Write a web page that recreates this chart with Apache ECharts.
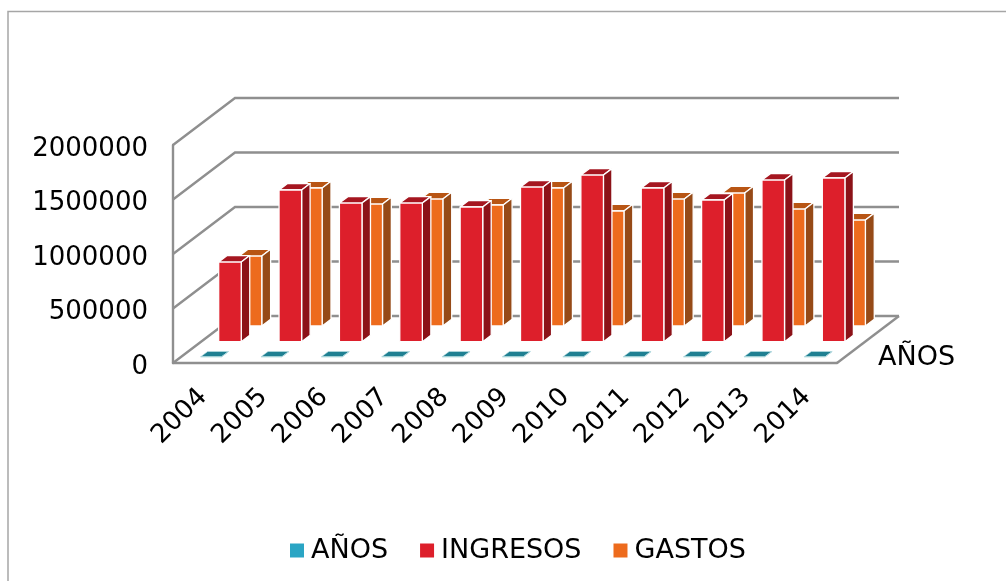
<!DOCTYPE html>
<html>
<head>
<meta charset="utf-8">
<title>Ingresos y gastos</title>
<script src="https://cdn.jsdelivr.net/npm/echarts@6/dist/echarts.min.js"></script>
<style>
  html, body { margin: 0; padding: 0; background: #fff; }
  #main { width: 1006px; height: 581px; }
</style>
</head>
<body>
<div id="main"></div>
<script>
const years = ["2004", "2005", "2006", "2007", "2008", "2009", "2010", "2011", "2012", "2013", "2014"];
const anos = [2004, 2005, 2006, 2007, 2008, 2009, 2010, 2011, 2012, 2013, 2014];
const ingresos = [731000, 1392000, 1272000, 1272000, 1236000, 1419000, 1529000, 1410000, 1300000, 1483000, 1502000];
const gastos = [642000, 1266000, 1119000, 1165000, 1110000, 1266000, 1055000, 1165000, 1220000, 1073000, 972000];
const yTicks = [0, 500000, 1000000, 1500000, 2000000];

const FONT = "DejaVu Sans";
const GRAY = "#8f8f8f";
// vector de profundidad del "3D" de Excel
const DX = 62;
const DY = -47;

// cada cara de la barra se proyecta desde el punto del eje
function shift(p, d) {
  return [p[0] + DX * d, p[1] + DY * d];
}

function barItem(front, back, colors, barWidth, stroke, nudgeX) {
  return function (params, api) {
    const base = api.coord([api.value(0), 0]);
    const top = api.coord([api.value(0), api.value(1)]);
    const hw = (api.size([1, 0])[0] * barWidth) / 2;
    const corner = (p, dirX, d) => shift([p[0] + dirX * hw + nudgeX, p[1]], d);
    const face = (points, fill) => ({
      type: "polygon",
      shape: { points: points },
      style: { fill: fill, stroke: stroke.color, lineWidth: stroke.width, lineJoin: "round" },
    });
    return {
      type: "group",
      children: [
        face([corner(top, -1, front), corner(top, 1, front), corner(top, 1, back), corner(top, -1, back)], colors.top),
        face([corner(base, 1, front), corner(top, 1, front), corner(top, 1, back), corner(base, 1, back)], colors.side),
        face([corner(base, -1, front), corner(base, 1, front), corner(top, 1, front), corner(top, -1, front)], colors.front),
      ],
    };
  };
}

function wallItem(params, api) {
  const band = api.size([1, 0])[0];
  const first = api.coord([0, api.value(0)]);
  const last = api.coord([years.length - 1, api.value(0)]);
  const left = [first[0] - band / 2, first[1]];
  const right = [last[0] + band / 2, last[1]];
  const style = { stroke: GRAY, lineWidth: 2.4, fill: "none" };
  const children = [
    {
      type: "polyline",
      shape: { points: [left, shift(left, 1), shift(right, 1)] },
      style: style,
    },
  ];
  if (api.value(0) === 0) {
    children.push({
      type: "line",
      shape: { x1: right[0], y1: right[1], x2: right[0] + DX, y2: right[1] + DY },
      style: style,
    });
  }
  return { type: "group", children: children };
}

const myChart = echarts.init(document.getElementById("main"));

const toPairs = (values) => values.map((v, i) => [i, v]);
const whiteEdge = { color: "#fff", width: 1.3 };

myChart.setOption({
  animation: false,
  textStyle: { fontFamily: FONT },
  grid: { left: 173, top: 145, width: 664, height: 218, containLabel: false },
  xAxis: {
    type: "category",
    data: years,
    boundaryGap: true,
    axisTick: { show: false },
    axisLine: { lineStyle: { color: GRAY, width: 2.4 } },
    axisLabel: { color: "#000", fontFamily: FONT, fontSize: 26, rotate: 45, margin: 30, interval: 0 },
  },
  yAxis: {
    type: "value",
    min: 0,
    max: 2000000,
    interval: 500000,
    splitLine: { show: false },
    axisTick: { show: false },
    axisLine: { show: true, lineStyle: { color: GRAY, width: 2.4 } },
    axisLabel: {
      color: "#000",
      fontFamily: FONT,
      fontSize: 26,
      margin: 25,
      verticalAlign: "top",
      padding: [-9, 0, 0, 0],
      formatter: (v) => String(v),
    },
  },
  legend: {
    data: ["AÑOS", "INGRESOS", "GASTOS"],
    left: 290,
    top: 537,
    padding: 0,
    icon: "rect",
    itemWidth: 14,
    itemHeight: 14,
    itemGap: 32,
    textStyle: { color: "#000", fontFamily: FONT, fontSize: 27, padding: [0, 0, 0, 2] },
    selectedMode: false,
  },
  graphic: [
    {
      type: "polyline",
      shape: { points: [[8, 581], [8, 11.5], [1006, 11.5]] },
      style: { stroke: "#a6a6a6", lineWidth: 1.5, fill: "none" },
    },
    {
      type: "text",
      left: 878,
      top: 344,
      style: { text: "AÑOS", fill: "#000", font: "27px '" + FONT + "'" },
    },
  ],
  series: [
    {
      name: "muros",
      type: "custom",
      data: yTicks.map((v) => [v]),
      encode: { y: 0 },
      renderItem: wallItem,
      clip: false,
      silent: true,
      z: 1,
    },
    {
      name: "AÑOS",
      type: "custom",
      data: toPairs(anos),
      encode: { x: 0, y: 1 },
      renderItem: barItem(0.128, 0.24, { front: "#1f8092", top: "#1f8092", side: "#1f8092" }, 0.345, { color: "#bfe0e6", width: 0.6 }, 0),
      itemStyle: { color: "#2aa5c4" },
      clip: false,
      z: 4,
    },
    {
      name: "INGRESOS",
      type: "custom",
      data: toPairs(ingresos),
      encode: { x: 0, y: 1 },
      renderItem: barItem(0.453, 0.59, { front: "#dd1f2b", top: "#a51620", side: "#8c1218" }, 0.374, whiteEdge, -1.3),
      itemStyle: { color: "#dd1f2b" },
      clip: false,
      z: 3,
    },
    {
      name: "GASTOS",
      type: "custom",
      data: toPairs(gastos),
      encode: { x: 0, y: 1 },
      renderItem: barItem(0.787, 0.93, { front: "#ed6b1d", top: "#b85514", side: "#964a17" }, 0.374, whiteEdge, -1.5),
      itemStyle: { color: "#ed6b1d" },
      clip: false,
      z: 2,
    },
  ],
});
</script>
</body>
</html>
